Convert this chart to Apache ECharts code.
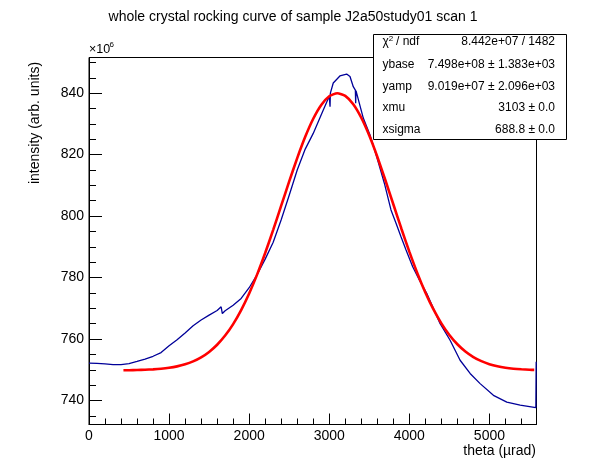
<!DOCTYPE html>
<html><head><meta charset="utf-8">
<script src="https://cdn.jsdelivr.net/npm/echarts@6/dist/echarts.min.js"></script>
<style>html,body{margin:0;padding:0;background:#fff}#c{width:596px;height:472px}</style>
</head><body><div id="c"></div>
<script>
// measured histogram (blue), theta in µrad, intensity in 10^6 arb. units
const thetaBlue = [0,100,200,300,400,500,600,700,800,900,1000,1100,1200,1300,1400,1500,1600,1650,1665,1700,1800,1900,2000,2100,2200,2300,2400,2500,2600,2700,2800,2900,3000,3006,3010,3014,3050,3133,3217,3259,3300,3326,3330,3334,3342,3425,3509,3592,3688,3771,3834,3896,3959,4042,4125,4217,4300,4383,4509,4634,4759,4884,5050,5217,5384,5580,5584];
const intensityBlue = [752.2,752.1,751.9,751.7,751.7,752.0,752.7,753.5,754.4,755.6,757.8,759.8,762.0,764.3,766.2,767.8,769.3,770.5,768.3,769.2,771.0,773.2,776.7,781.0,786.0,791.5,798.8,806.8,815.0,821.8,826.9,833.0,839.0,839.3,835.6,840.0,843.3,845.6,846.2,845.4,842.1,841.0,836.7,840.8,840.0,831.9,826.4,819.4,810.7,802.0,797.7,793.3,789.0,783.5,779.2,774.9,770.0,765.1,759.6,753.1,748.8,745.5,741.7,739.5,738.5,737.7,752.6];
// fitted curve (red)
const thetaFit = [430,500,600,700,800,900,1000,1100,1200,1300,1400,1500,1600,1700,1800,1900,2000,2100,2200,2300,2400,2500,2600,2700,2800,2900,3000,3100,3200,3300,3400,3500,3600,3700,3800,3900,4000,4100,4200,4300,4400,4500,4600,4700,4800,4900,5000,5100,5200,5300,5400,5500,5560];
const intensityFit = [749.85,749.87,749.92,750.01,750.14,750.34,750.65,751.11,751.78,752.73,754.04,755.81,758.14,761.13,764.87,769.43,774.82,781.04,787.99,795.52,803.38,811.28,818.88,825.80,831.67,836.16,838.99,839.99,839.10,836.38,831.99,826.19,819.32,811.75,803.85,795.98,788.43,781.44,775.17,769.72,765.12,761.33,758.30,755.94,754.14,752.80,751.83,751.15,750.68,750.36,750.15,750.01,749.96];
// axis ticks
const xMajor = [0,1000,2000,3000,4000,5000];
const xMinor = [200,400,600,800,1200,1400,1600,1800,2200,2400,2600,2800,3200,3400,3600,3800,4200,4400,4600,4800,5200,5400];
const yMajor = [740,760,780,800,820,840];
const yMinor = [735,745,750,755,765,770,775,785,790,795,805,810,815,825,830,835,845,850];
// stats box
const statNames = ['ybase','yamp','xmu','xsigma'];
const statValues = ['7.498e+08 \u00b1 1.383e+03','9.019e+07 \u00b1 2.096e+03','3103 \u00b1 0.0','688.8 \u00b1 0.0'];
const chiValue = '8.442e+07 / 1482';

const FONT = 'Liberation Sans, Arial, Helvetica, sans-serif';
const X0 = 0, X1 = 5588, Y0 = 732.2, Y1 = 851.6;
const blueData = thetaBlue.map((t,i)=>[t,intensityBlue[i]]);
const fitData = thetaFit.map((t,i)=>[t,intensityFit[i]]);

const chart = echarts.init(document.getElementById('c'));
const lbl = {color:'#000',fontSize:14,fontFamily:FONT,formatter:v=>String(v)};
function txt(x,y,s,size,extra){
  return {type:'text',x:x,y:y,style:Object.assign({text:s,fontSize:size,fontFamily:FONT,fill:'#000',textVerticalAlign:'middle'},extra||{})};
}
const statGraphics = [
  {type:'rect',shape:{x:373.5,y:34.5,width:193,height:105},style:{fill:'#fff',stroke:'#000',lineWidth:1},z:100},
  Object.assign(txt(382.5,42,'\u03c7',12),{z:101}),
  Object.assign(txt(388.8,38.5,'2',8),{z:101}),
  Object.assign(txt(396,42,'/ ndf',12),{z:101}),
  Object.assign(txt(555,42,chiValue,12,{textAlign:'right'}),{z:101})
];
statNames.forEach((n,i)=>{
  const y = 64.3 + i*21.9;
  statGraphics.push(Object.assign(txt(382.5,y,n,12),{z:101}));
  statGraphics.push(Object.assign(txt(555,y,statValues[i],12,{textAlign:'right'}),{z:101}));
});

chart.setOption({
  animation:false,
  backgroundColor:'#fff',
  grid:{left:89,top:57.5,right:59.5,bottom:47.5,show:true,borderColor:'#000',borderWidth:1,backgroundColor:'transparent'},
  xAxis:[
    {type:'value',min:X0,max:X1,position:'bottom',
     axisLine:{show:true,lineStyle:{color:'#000',width:1}},
     axisTick:{show:true,inside:true,length:11,customValues:xMajor,lineStyle:{color:'#000'}},
     axisLabel:Object.assign({customValues:xMajor,margin:5},lbl),
     splitLine:{show:false}},
    {type:'value',min:X0,max:X1,position:'bottom',
     axisLine:{show:false},
     axisTick:{show:true,inside:true,length:6,customValues:xMinor,lineStyle:{color:'#000'}},
     axisLabel:{show:false},splitLine:{show:false}}
  ],
  yAxis:[
    {type:'value',min:Y0,max:Y1,position:'left',
     axisLine:{show:true,lineStyle:{color:'#000',width:1}},
     axisTick:{show:true,inside:true,length:13,customValues:yMajor,lineStyle:{color:'#000'}},
     axisLabel:Object.assign({customValues:yMajor,margin:5},lbl),
     splitLine:{show:false}},
    {type:'value',min:Y0,max:Y1,position:'left',
     axisLine:{show:false},
     axisTick:{show:true,inside:true,length:7,customValues:yMinor,lineStyle:{color:'#000'}},
     axisLabel:{show:false},splitLine:{show:false}}
  ],
  series:[
    {type:'line',xAxisIndex:0,yAxisIndex:0,data:blueData,showSymbol:false,
     lineStyle:{color:'#000099',width:1.3},itemStyle:{color:'#000099'},z:3},
    {type:'line',xAxisIndex:0,yAxisIndex:0,data:fitData,showSymbol:false,smooth:0.2,
     lineStyle:{color:'#ff0000',width:2.6},itemStyle:{color:'#ff0000'},z:4}
  ],
  graphic:[
    txt(293,17,'whole crystal rocking curve of sample J2a50study01 scan 1',14,{textAlign:'center'}),
    Object.assign(txt(35,123,'intensity (arb. units)',14,{textAlign:'center'}),{rotation:Math.PI/2}),
    txt(536,451,'theta (\u00b5rad)',14,{textAlign:'right'}),
    txt(89,49.5,'\u00d710',12.5),
    txt(109.5,44.5,'6',8)
  ].concat(statGraphics)
});
</script></body></html>
